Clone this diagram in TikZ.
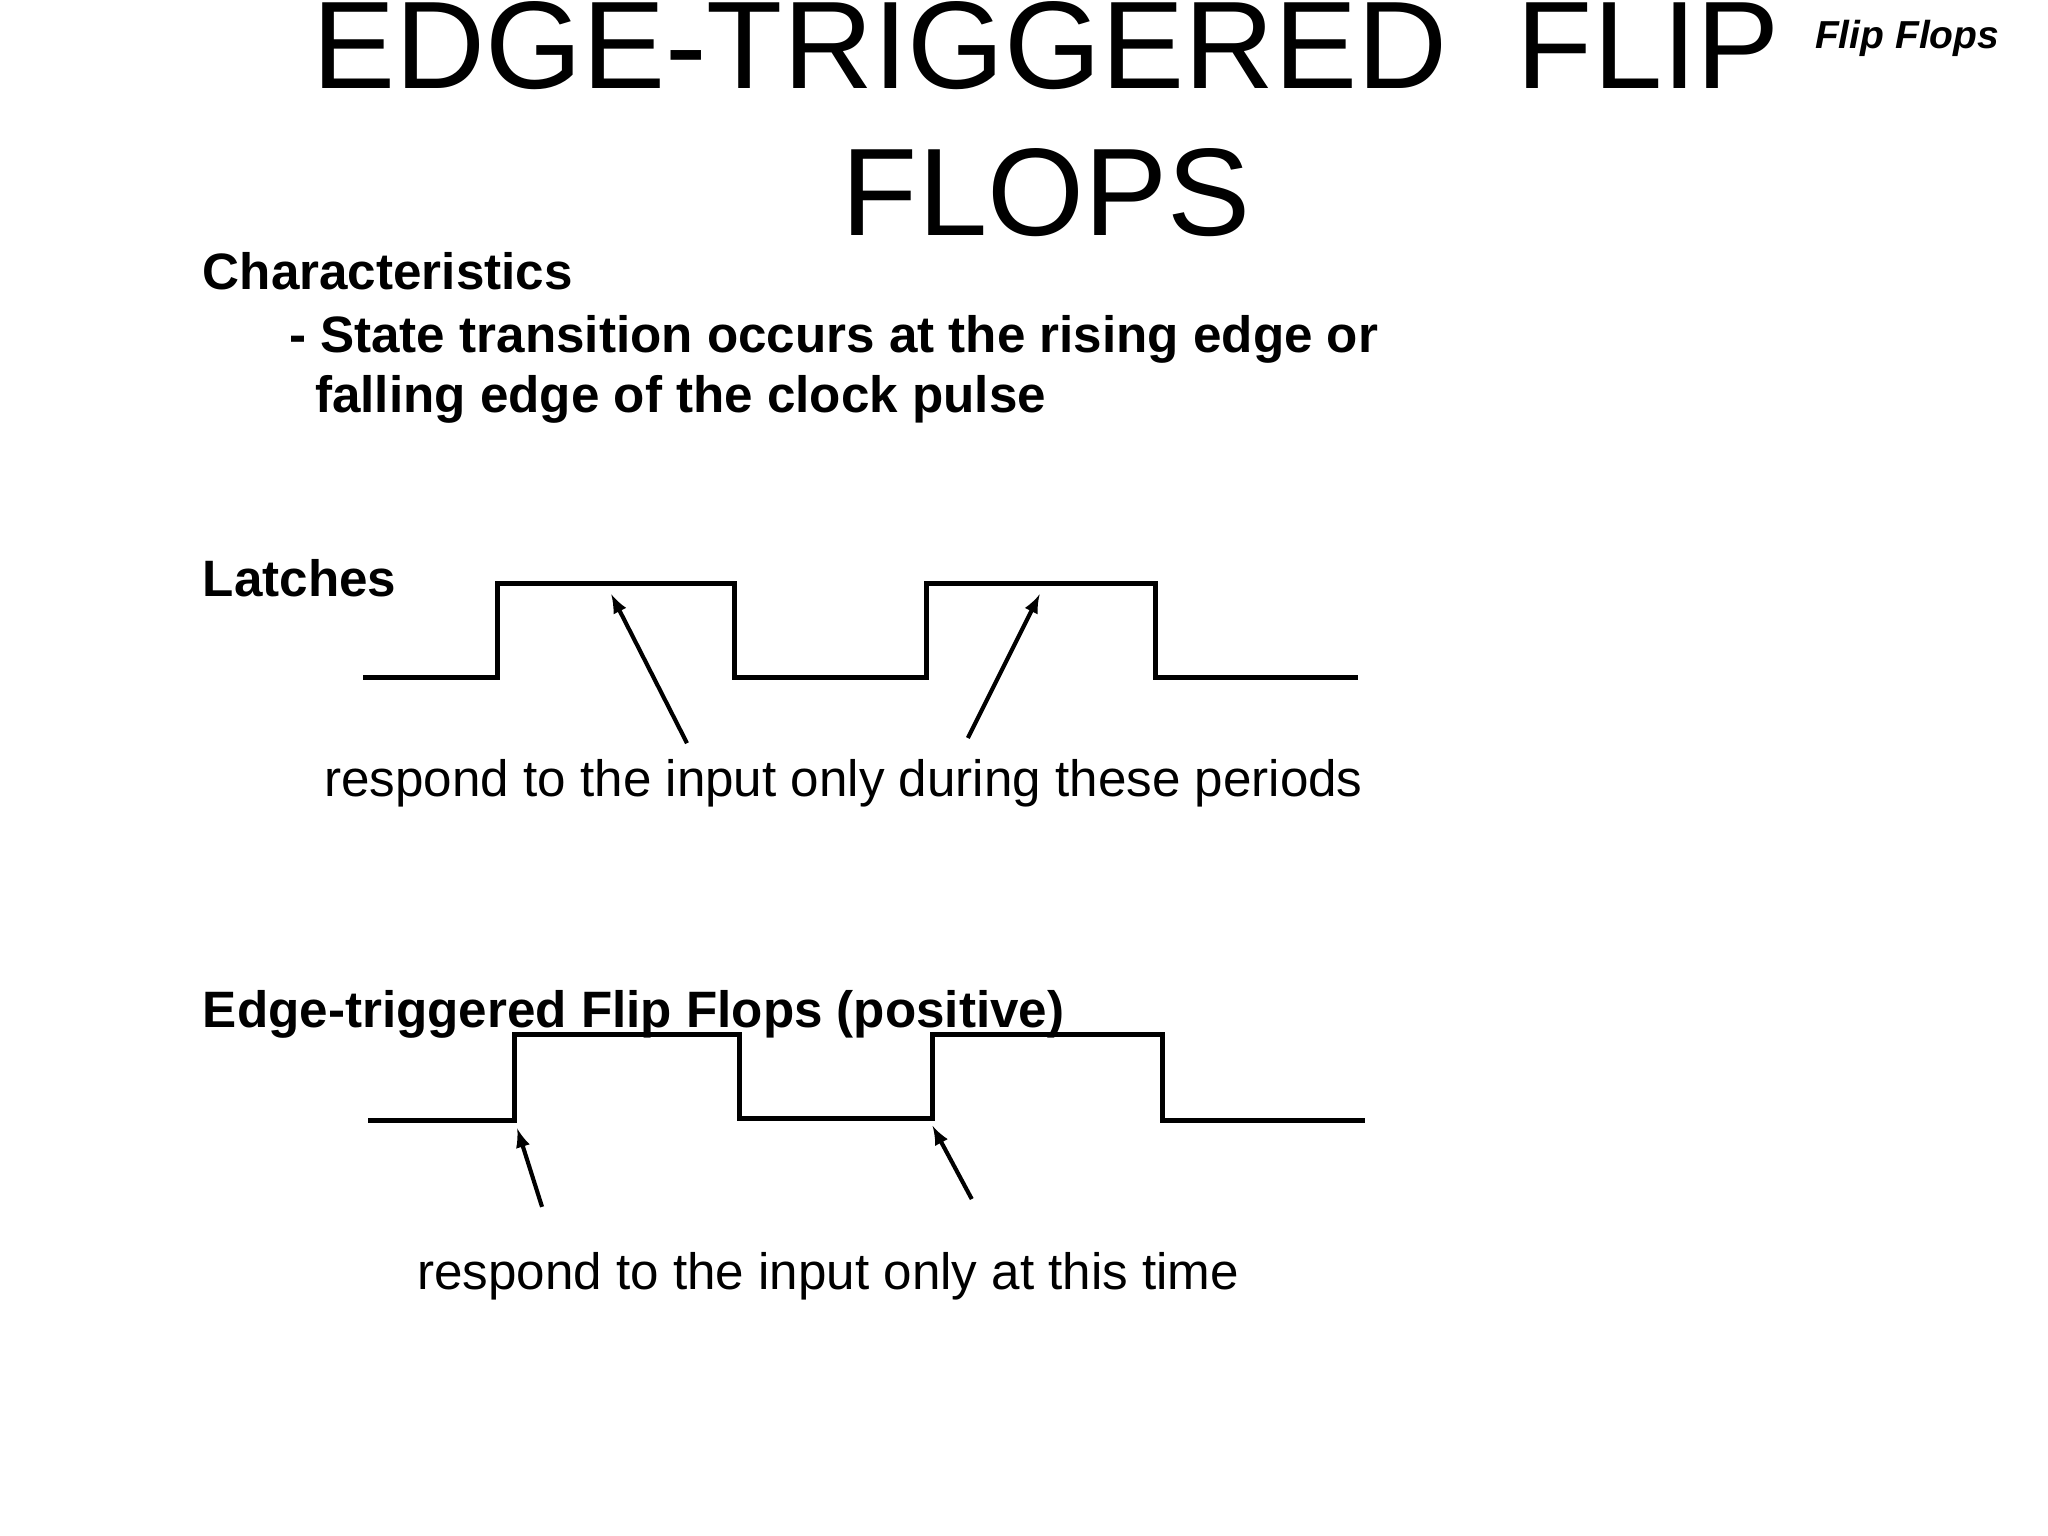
\documentclass[tikz,border=0pt]{standalone}
\usepackage{fontspec}
\setmainfont{Liberation Sans}
\begin{document}
\begin{tikzpicture}[x=0.02cm,y=-0.02cm,
  wave/.style={line width=2.2pt,line join=miter},
  arr/.style={line width=1.8pt,-latex},
  txt/.style={anchor=base west,inner sep=0pt},
  bt/.style={txt,font=\fontsize{22.3}{26}\selectfont\bfseries},
  nt/.style={txt,font=\fontsize{22.3}{26}\selectfont}]
\useasboundingbox (0,0) rectangle (1568,1176);
\node[anchor=base,inner sep=0pt,font=\fontsize{54.3}{60}\selectfont] (t1) at (801,68) {EDGE-TRIGGERED\ \ FLIP};
\node[anchor=base,inner sep=0pt,font=\fontsize{54.3}{60}\selectfont] (t2) at (801,180) {FLOPS};
\node[anchor=base east,inner sep=0pt,font=\fontsize{17}{20}\selectfont\bfseries\itshape] (ff) at (1531,37) {Flip Flops};
\node[bt] (c1) at (155,222) {Characteristics};
\node[bt] (c2) at (221,270) {- State transition occurs at the rising edge or};
\node[bt] (c3) at (241,316) {falling edge of the clock pulse};
\node[bt] (lat) at (155,457) {Latches};
\node[bt] (etf) at (155,787) {Edge-triggered Flip Flops (positive)};
\node[nt] (r1) at (248,610) {respond to the input only during these periods};
\node[nt] (r2) at (319,987) {respond to the input only at this time};
\draw[wave] (278,519) -- (381,519) -- (381,447) -- (562,447) -- (562,519) -- (709,519) -- (709,447) -- (885,447) -- (885,519) -- (1040,519);
\draw[wave] (282,858) -- (394,858) -- (394,792) -- (566,792) -- (566,856) -- (714,856) -- (714,792) -- (890,792) -- (890,858) -- (1045,858);
\coordinate (a1) at (526,569); \coordinate (b1) at (468,455);
\coordinate (a2) at (741,565); \coordinate (b2) at (796,455);
\coordinate (a3) at (415,924); \coordinate (b3) at (396,864);
\coordinate (a4) at (744,918); \coordinate (b4) at (714,862);
\draw[arr] (a1) -- (b1);
\draw[arr] (a2) -- (b2);
\draw[arr] (a3) -- (b3);
\draw[arr] (a4) -- (b4);
\end{tikzpicture}
\end{document}
